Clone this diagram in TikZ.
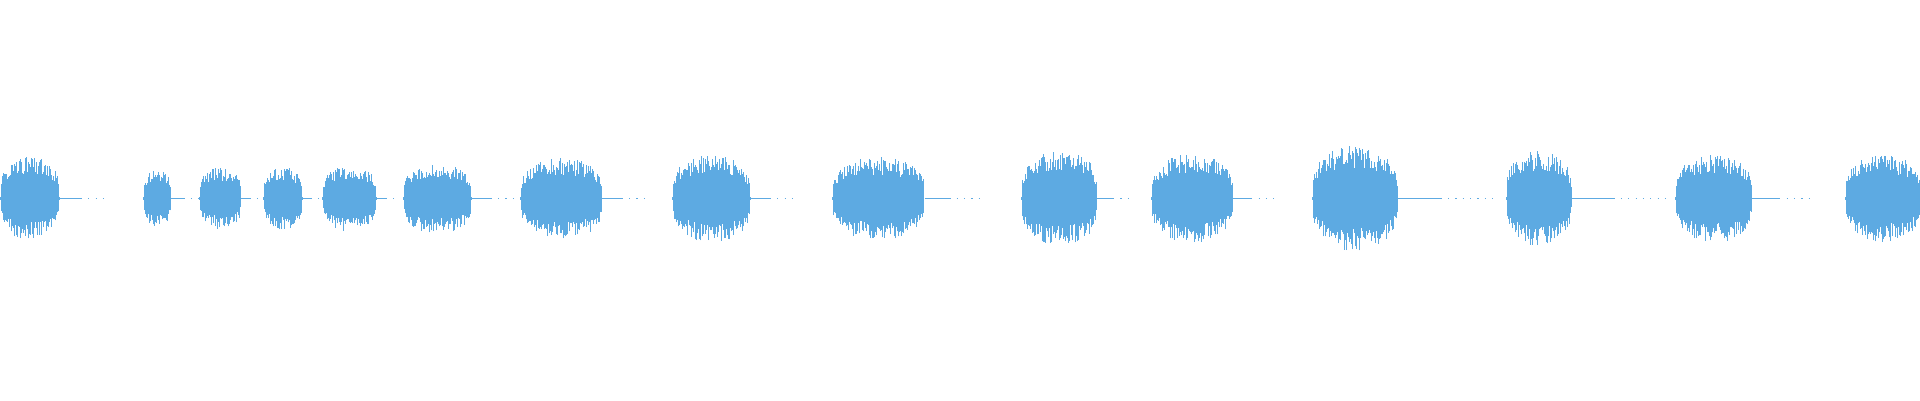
\documentclass[tikz,border=0pt]{standalone}
\definecolor{wave}{RGB}{93,170,226}
\begin{document}
\begin{tikzpicture}[x=1pt,y=1pt,wv/.style={draw=wave,line width=0.45pt}]
\useasboundingbox (0,0) rectangle (1568,327);
\pgfmathsetseed{7}
\foreach \a/\b/\h/\t in {0/48/33/88,117/140/23/162,163/197/24/212,215/247/25/262,263/307/26/325,329/385/28/420,425/492/32/527,549/613/35/648,680/755/33/800,834/896/38/925,940/1007/35/1040,1072/1141/42/1220,1230/1283/38/1360,1368/1431/35/1480,1507/1568/35/1568}{
  \pgfmathsetmacro{\m}{\b+0.45*(\t-\b)}
  \draw[wv] (\b,165) -- (\m,165);
  \draw[wv,dash pattern=on 1pt off 5pt] (\m,165) -- (\t,165);
  \pgfmathsetmacro{\n}{int((\b-\a)/0.8)}
  \foreach \i in {0,...,\n}{
    \pgfmathsetmacro{\x}{\a+\i*0.8}
    \pgfmathsetmacro{\u}{(2*\x-\a-\b)/(\b-\a)}
    \pgfmathsetmacro{\e}{\h*sqrt(max(0,1-\u*\u))^0.6*(0.55+0.45*rnd)+1}
    \pgfmathsetmacro{\f}{\h*sqrt(max(0,1-\u*\u))^0.6*(0.55+0.45*rnd)+1}
    \draw[wv] (\x,165-\e) -- (\x,165+\f);
  }
}
\end{tikzpicture}
\end{document}
